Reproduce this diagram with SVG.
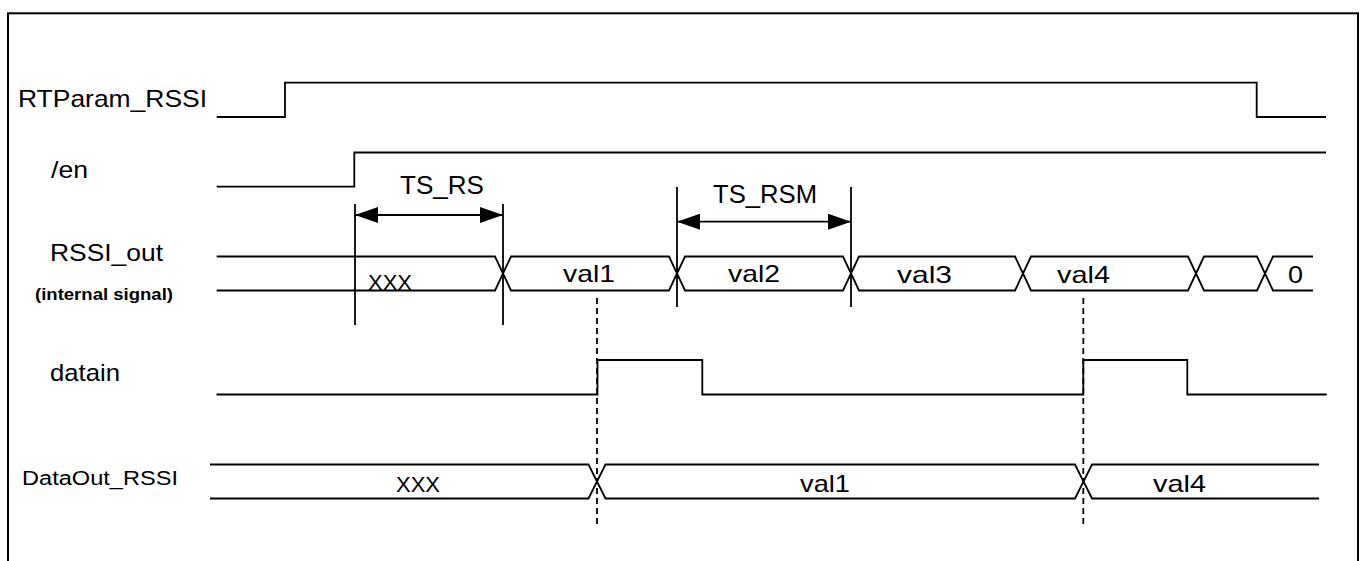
<svg xmlns="http://www.w3.org/2000/svg" width="1365" height="561" viewBox="0 0 1365 561">
<style>
.w{fill:none;stroke:#000;stroke-width:1.8;stroke-linejoin:miter}
.dash{fill:none;stroke:#000;stroke-width:1.8;stroke-dasharray:6 4}
.t{font-family:"Liberation Sans",Arial,sans-serif;font-size:24px;fill:#000}
.b{font-weight:bold;font-size:16px}
</style>
<defs>
<marker id="ah" markerUnits="userSpaceOnUse" markerWidth="23" markerHeight="16" refX="23" refY="8" orient="auto-start-reverse">
<path d="M0,0 L23,8 L0,16 Z" fill="#000"/>
</marker>
</defs>
<rect x="8" y="13.3" width="1350" height="600" fill="#fff" stroke="#000" stroke-width="2"/>

<g id="rtparam_rssi">
<text class="t" x="18" y="107" textLength="189" lengthAdjust="spacingAndGlyphs">RTParam_RSSI</text>
<path class="w" d="M216.7 117 H285 V82.7 H1256.7 V117 H1326"/>
</g>

<g id="en">
<text class="t" x="51" y="178" textLength="37" lengthAdjust="spacingAndGlyphs">/en</text>
<path class="w" d="M216.7 186.7 H354.3 V152.5 H1326"/>
</g>

<g id="rssi_out">
<text class="t" x="50" y="261" textLength="113" lengthAdjust="spacingAndGlyphs">RSSI_out</text>
<text class="t b" x="35" y="300" textLength="138" lengthAdjust="spacingAndGlyphs">(internal signal)</text>
<path class="w" d="M216.7 256.5 H495 L503 273.5 L495 290.5 H216.7"/>
<path class="w" d="M503 273.5 L511 256.5 H669 L677 273.5 L669 290.5 H511 Z"/>
<path class="w" d="M677 273.5 L685 256.5 H843 L851 273.5 L843 290.5 H685 Z"/>
<path class="w" d="M851 273.5 L859 256.5 H1015 L1023 273.5 L1015 290.5 H859 Z"/>
<path class="w" d="M1023 273.5 L1031 256.5 H1188 L1196 273.5 L1188 290.5 H1031 Z"/>
<path class="w" d="M1196 273.5 L1204 256.5 H1257 L1265 273.5 L1257 290.5 H1204 Z"/>
<path class="w" d="M1313 256.5 H1273 L1265 273.5 L1273 290.5 H1313"/>
<text class="t" x="368" y="290" font-size="22" textLength="44" lengthAdjust="spacingAndGlyphs" style="font-size:22px">XXX</text>
<text class="t" x="563" y="282" textLength="52" lengthAdjust="spacingAndGlyphs">val1</text>
<text class="t" x="728" y="282" textLength="52" lengthAdjust="spacingAndGlyphs">val2</text>
<text class="t" x="897" y="283" textLength="55" lengthAdjust="spacingAndGlyphs">val3</text>
<text class="t" x="1057" y="283" textLength="53" lengthAdjust="spacingAndGlyphs">val4</text>
<text class="t" x="1288" y="283" textLength="15" lengthAdjust="spacingAndGlyphs">0</text>
</g>

<g id="datain">
<text class="t" x="50" y="381" textLength="70" lengthAdjust="spacingAndGlyphs">datain</text>
<path class="w" d="M216.5 394.5 H597.5 V360 H702.3 V394.5 H1083.3 V360 H1187.3 V394.5 H1326.7"/>
</g>

<g id="dataout_rssi">
<text class="t" x="22" y="485" textLength="156" lengthAdjust="spacingAndGlyphs" style="font-size:20px">DataOut_RSSI</text>
<path class="w" d="M210 464.5 H588.5 L597 481.5 L588.5 498.5 H210"/>
<path class="w" d="M597 481.5 L605.5 464.5 H1075 L1083.5 481.5 L1075 498.5 H605.5 Z"/>
<path class="w" d="M1319 464.5 H1092 L1083.5 481.5 L1092 498.5 H1319"/>
<text class="t" x="396" y="492" textLength="44" lengthAdjust="spacingAndGlyphs" style="font-size:22px">XXX</text>
<text class="t" x="800" y="492" textLength="50" lengthAdjust="spacingAndGlyphs">val1</text>
<text class="t" x="1153" y="492" textLength="53" lengthAdjust="spacingAndGlyphs">val4</text>
</g>

<g id="connectors">
<line class="w" x1="355" y1="204" x2="355" y2="325"/>
<line class="w" x1="503" y1="204" x2="503" y2="325"/>
<line class="w" x1="355" y1="215" x2="503" y2="215" marker-start="url(#ah)" marker-end="url(#ah)"/>
<text class="t" x="400" y="194" textLength="84" lengthAdjust="spacingAndGlyphs" style="font-size:26px">TS_RS</text>
<line class="w" x1="677" y1="187" x2="677" y2="307"/>
<line class="w" x1="851" y1="187" x2="851" y2="307"/>
<line class="w" x1="677" y1="221.7" x2="851" y2="221.7" marker-start="url(#ah)" marker-end="url(#ah)"/>
<text class="t" x="713" y="203" textLength="104" lengthAdjust="spacingAndGlyphs" style="font-size:25px">TS_RSM</text>
<line class="dash" x1="597" y1="298" x2="597" y2="525"/>
<line class="dash" x1="1083.3" y1="298" x2="1083.3" y2="525"/>
</g>
</svg>
